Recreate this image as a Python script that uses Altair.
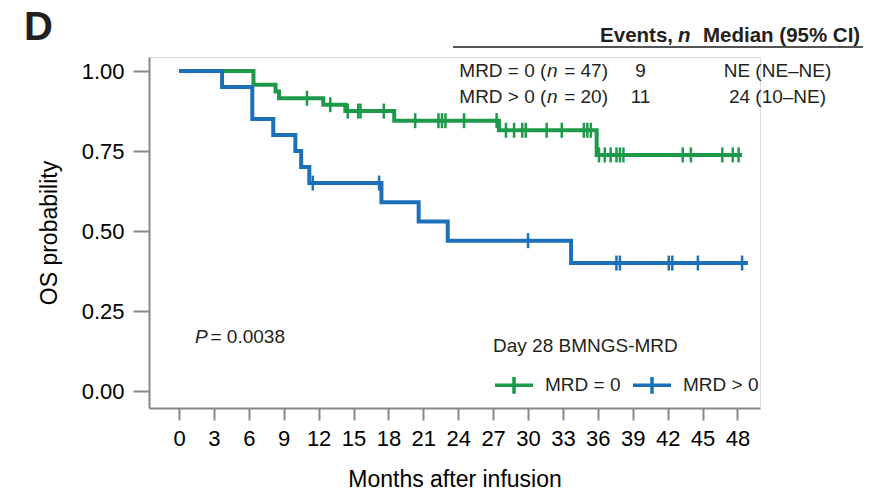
import altair as alt
import pandas as pd
import numpy as np

FONT = "Liberation Sans"
INK = "#231f20"

groups = ["MRD = 0", "MRD > 0"]
colors = ["#1c9a49", "#1c70ba"]

# Kaplan-Meier step points (months, survival)
mrd0_times = [0, 6.4, 8.3, 8.6, 12.4, 14.3, 18.5, 27.5, 35.9, 48.4]
mrd0_surv = [1.0, 0.957, 0.936, 0.915, 0.895, 0.875, 0.845, 0.815, 0.738, 0.738]
mrd0_censor = [11.0, 13.0, 14.5, 15.4, 15.6, 17.6, 20.3, 22.3, 22.6, 22.9, 24.5, 27.3,
               28.1, 28.8, 29.5, 29.8, 31.6, 32.9, 34.8, 35.1, 35.4, 36.1, 36.6, 37.1,
               37.6, 37.9, 38.2, 43.3, 44.0, 46.7, 47.6, 48.1]

mrdpos_times = [0, 3.7, 6.3, 8.1, 10.0, 10.5, 11.2, 17.4, 20.6, 23.1, 33.7, 48.9]
mrdpos_surv = [1.0, 0.95, 0.85, 0.80, 0.75, 0.70, 0.65, 0.59, 0.53, 0.47, 0.40, 0.40]
mrdpos_censor = [11.5, 17.2, 30.0, 37.6, 37.9, 42.1, 42.4, 44.6, 48.4]

x_ticks = list(range(0, 49, 3))
y_ticks = [0.0, 0.25, 0.50, 0.75, 1.00]

table_header = ["Events,", "n", "Median (95% CI)"]
row_labels = [("MRD = 0 (", "n", " = 47)"), ("MRD > 0 (", "n", " = 20)")]
row_events = ["9", "11"]
row_median = ["NE (NE\u2013NE)", "24 (10\u2013NE)"]
p_text = ("P", "= 0.0038")


def step_lookup(times, surv, t):
    i = np.searchsorted(np.array(times), t, side="right") - 1
    return surv[i]


line_rows, cens_rows = [], []
for g, tt, ss, cc in [(groups[0], mrd0_times, mrd0_surv, mrd0_censor),
                      (groups[1], mrdpos_times, mrdpos_surv, mrdpos_censor)]:
    for t, s in zip(tt, ss):
        line_rows.append({"group": g, "t": t, "s": s})
    for c in cc:
        cens_rows.append({"group": g, "t": c, "s": step_lookup(tt, ss, c)})
line_df = pd.DataFrame(line_rows)
cens_df = pd.DataFrame(cens_rows)

xscale = alt.Scale(domain=[-2.58, 49.94], nice=False, zero=False)
yscale = alt.Scale(domain=[-0.053, 1.044], nice=False, zero=False)
cscale = alt.Scale(domain=groups, range=colors)

xaxis = alt.Axis(values=x_ticks, title="Months after infusion", grid=False,
                 tickSize=12, tickWidth=2, domainWidth=2, labelFontSize=22,
                 labelPadding=8, titleFontSize=23, titleFontWeight="normal",
                 titlePadding=19, labelFlush=False, labelOverlap=False,
                 tickCount=len(x_ticks))
yaxis = alt.Axis(values=y_ticks, format=".2f", title="OS probability", grid=False,
                 tickSize=16, tickWidth=2, domainWidth=2, labelFontSize=22,
                 labelPadding=9, titleFontSize=23, titleFontWeight="normal",
                 titlePadding=20, labelOverlap=False)

legend = alt.Legend(orient="none", legendX=344, legendY=280, direction="horizontal",
                    title="Day 28 BMNGS-MRD", titleFontSize=19, titleFontWeight="normal",
                    titleColor=INK, labelColor=INK, labelFontSize=19, titleFont=FONT,
                    labelFont=FONT, symbolType="M-1,0H1M0,-0.44V0.44", symbolSize=1444,
                    symbolStrokeWidth=3.5, labelOffset=10, columnPadding=5,
                    titlePadding=8, titleLimit=400, labelLimit=300)

lines = alt.Chart(line_df).mark_line(interpolate="step-after", strokeWidth=4).encode(
    x=alt.X("t:Q", scale=xscale, axis=xaxis),
    y=alt.Y("s:Q", scale=yscale, axis=yaxis),
    color=alt.Color("group:N", scale=cscale, legend=legend, sort=groups),
    order=alt.Order("t:Q"),
)

ticks = alt.Chart(cens_df).mark_tick(orient="vertical", size=15, thickness=2.5,
                                     opacity=1).encode(
    x=alt.X("t:Q", scale=xscale, axis=xaxis),
    y=alt.Y("s:Q", scale=yscale, axis=yaxis),
    color=alt.Color("group:N", scale=cscale, legend=None),
)

one = pd.DataFrame({"k": [0]})


def txt(s, x, y, size=19, weight="normal", style="normal", align="left"):
    return alt.Chart(one).mark_text(text=s, font=FONT, fontSize=size, fontWeight=weight,
                                    fontStyle=style, align=align, baseline="alphabetic",
                                    color=INK).encode(x=alt.value(x), y=alt.value(y))


hy = -15.5
annots = [
    txt("D", -125, -17, size=40, weight="bold"),
    txt(table_header[0], 524, hy, size=20.5, weight="bold", align="right"),
    txt(table_header[1], 529, hy, size=20.5, weight="bold", style="italic"),
    txt(table_header[2], 554, hy, size=20.5, weight="bold"),
]
row_y = [19.5, 45.5]
for (a, n, b), ev, med, yy in zip(row_labels, row_events, row_median, row_y):
    annots += [
        txt(a, 310.3, yy),
        txt(n, 398, yy, style="italic"),
        txt(b, 459, yy, align="right"),
        txt(ev, 491.5, yy, align="center"),
        txt(med, 628.5, yy, align="center"),
    ]
annots += [txt(p_text[0], 46, 285.5, style="italic"), txt(p_text[1], 61.5, 285.5)]

rule = alt.Chart(one).mark_rule(color="#555555", strokeWidth=1.8).encode(
    x=alt.value(304), x2=alt.value(714), y=alt.value(-10))

chart = alt.layer(lines, ticks, rule, *annots).properties(
    width=611, height=351,
    autosize=alt.AutoSizeParams(type="none"),
    padding={"left": 149, "top": 57, "right": 114, "bottom": 86},
).configure_view(strokeWidth=0).configure_axis(
    domainColor=INK, tickColor=INK, labelColor=INK, titleColor=INK,
    labelFont=FONT, titleFont=FONT,
).configure(background="white")

chart.save("out.html", embed_options={"renderer": "svg", "actions": False})
